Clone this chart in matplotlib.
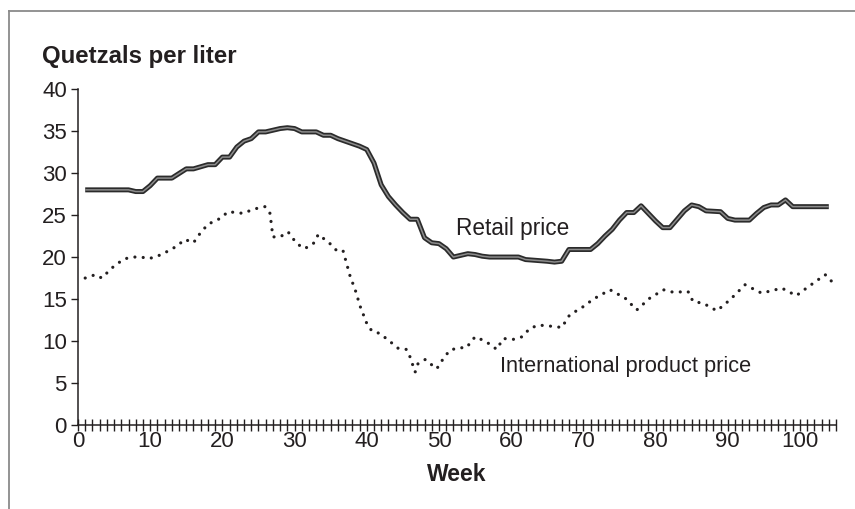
import matplotlib
matplotlib.use("Agg")
import matplotlib.pyplot as plt
from matplotlib.lines import Line2D
from matplotlib.ticker import MultipleLocator

plt.rcParams['font.family'] = ['Liberation Sans', 'DejaVu Sans']

# Retail price, quetzals per liter
retail_weeks = [1, 7, 8, 9, 10, 11, 13, 15, 16, 18, 19, 20, 21, 22, 23, 24, 25, 26,
                27, 28, 29, 30, 31, 33, 34, 35, 36, 37, 38, 39, 40, 41, 42, 43, 44,
                45, 46, 47, 48, 49, 50, 51, 52, 53, 54, 55, 56, 57, 61, 62, 65, 66,
                67, 68, 71, 72, 73, 74, 75, 76, 77, 78, 79, 80, 81, 82, 83, 84, 85,
                86, 87, 89, 90, 91, 93, 94, 95, 96, 97, 98, 99, 104]
retail_price = [28.0, 28.0, 27.8, 27.8, 28.5, 29.4, 29.4, 30.5, 30.5, 31.0, 31.0, 31.9,
                31.9, 33.1, 33.8, 34.1, 34.9, 34.9, 35.1, 35.3, 35.4, 35.3, 34.9, 34.9,
                34.5, 34.5, 34.1, 33.8, 33.5, 33.2, 32.8, 31.2, 28.6, 27.2, 26.2, 25.3,
                24.5, 24.5, 22.3, 21.7, 21.6, 21.0, 20.0, 20.2, 20.4, 20.3, 20.1, 20.0,
                20.0, 19.7, 19.5, 19.4, 19.5, 20.9, 20.9, 21.6, 22.5, 23.3, 24.4, 25.3,
                25.3, 26.1, 25.2, 24.3, 23.5, 23.5, 24.5, 25.5, 26.2, 26.0, 25.5, 25.4,
                24.6, 24.4, 24.4, 25.2, 25.9, 26.2, 26.2, 26.8, 26.0, 26.0]

# International product price
intl_weeks = [1, 2.4, 3.3, 4.7, 5.6, 6.5, 7.7, 8.8, 9.7, 10.7, 11.8, 13.7, 14.8, 16,
              16.9, 18, 19.7, 20.8, 22.9, 24.3, 25.9, 26.6, 27.0, 28, 29.1, 30.3,
              31.4, 32.6, 33.3, 34.9, 35.8, 36.7, 37.7, 38.4, 39.1, 40, 40.7, 41.8,
              43, 44.4, 45.5, 46, 46.7, 47.1, 48.1, 48.8, 49.7, 50.6, 51.5, 52.7,
              53.8, 55, 56.1, 57.1, 58, 58.9, 60.3, 61.5, 62.6, 63.8, 65.1, 66.3, 67,
              68.1, 70, 71.4, 73.7, 75.8, 77.4, 79.2, 81.1, 82.5, 84.5, 85.2, 86.6,
              88.5, 90.3, 92.4, 94.7, 97.5, 99.5, 100.9, 103.5, 104.4]
intl_price = [17.5, 17.9, 17.5, 18.7, 19.3, 19.8, 20.0, 20.0, 19.8, 20.0, 20.4, 21.3,
              22.1, 21.7, 22.8, 23.9, 24.6, 25.4, 25.2, 25.7, 26.0, 25.2, 22.4, 22.4,
              23.0, 21.6, 21.0, 21.6, 22.7, 21.6, 20.8, 20.8, 17.7, 16.1, 14.1, 12.1,
              11.2, 10.9, 10.1, 9.1, 9.0, 8.1, 6.3, 7.3, 7.8, 7.3, 6.7, 7.9, 8.9, 9.2,
              9.2, 10.5, 10.1, 9.6, 9.0, 10.3, 10.2, 10.5, 11.5, 11.9, 11.8, 11.7, 11.6,
              13.1, 14.1, 15.0, 16.1, 15.1, 13.7, 15.1, 16.1, 15.8, 15.9, 14.7, 14.5,
              13.6, 14.9, 16.7, 15.7, 16.3, 15.4, 16.3, 17.9, 17.1]

x_ticks = list(range(0, 101, 10))
y_ticks = list(range(0, 41, 5))

txt = '#231f20'

fig = plt.figure(figsize=(8.55, 5.09), dpi=100)
ax = fig.add_axes([0.0912, 0.165, 0.8866, 0.660])

# double-line look for retail price
ax.plot(retail_weeks, retail_price, color='#2b2b2b', lw=3.6, solid_capstyle='butt',
        solid_joinstyle='round')
ax.plot(retail_weeks, retail_price, color='#8c8c8c', lw=1.1, solid_capstyle='butt',
        solid_joinstyle='round')
ax.plot(intl_weeks, intl_price, color=txt, lw=2.3, linestyle=(0, (0.01, 2.6)),
        dash_capstyle='round')

ax.text(52.4, 23.4, 'Retail price', fontsize=16.3, color=txt, ha='left', va='center')
ax.text(58.4, 7.0, 'International product price', fontsize=15.7, color=txt,
        ha='left', va='center')

ax.set_xlim(0, 105)
ax.set_ylim(0, 40)
ax.set_xticks(x_ticks)
ax.xaxis.set_minor_locator(MultipleLocator(1))
ax.set_yticks(y_ticks)
ax.tick_params(axis='x', which='both', direction='inout', length=8, width=1,
               color=txt, labelsize=16, labelcolor=txt, pad=0)
ax.tick_params(axis='y', which='major', direction='out', length=5, width=1,
               color=txt, labelsize=16, labelcolor=txt, pad=3)
for s in ['top', 'right']:
    ax.spines[s].set_visible(False)
for s in ['left', 'bottom']:
    ax.spines[s].set_color(txt)
    ax.spines[s].set_linewidth(1.1)

ax.set_xlabel('Week', fontsize=16.5, fontweight='bold', color=txt, labelpad=8)
fig.text(42 / 855, 1 - 63 / 509, 'Quetzals per liter', fontsize=17.3,
         fontweight='bold', color=txt, ha='left', va='baseline')

# grey frame on top and left edges
fig.add_artist(Line2D([9 / 855, 1], [1 - 11 / 509, 1 - 11 / 509],
                      transform=fig.transFigure, color='#8a8a8a', lw=1.3))
fig.add_artist(Line2D([9 / 855, 9 / 855], [0, 1 - 11 / 509],
                      transform=fig.transFigure, color='#8a8a8a', lw=1.3))

fig.savefig('out.png', dpi=100)
